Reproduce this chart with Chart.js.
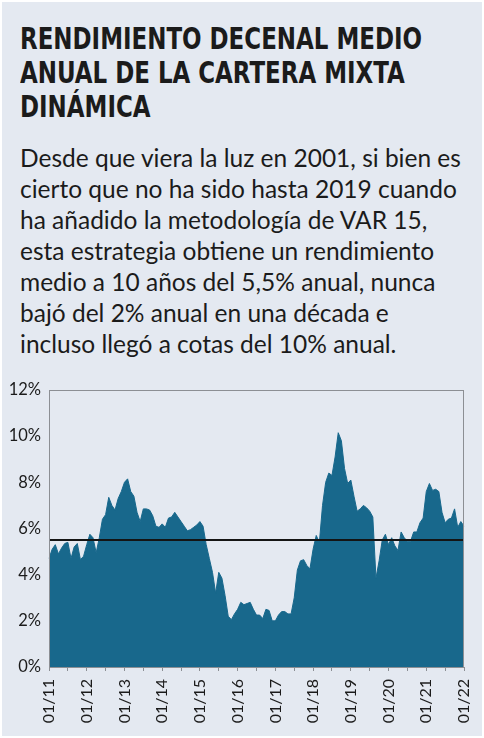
<!DOCTYPE html>
<html>
<head>
<meta charset="utf-8">
<script src="https://cdn.jsdelivr.net/npm/chart.js@4.4.1/dist/chart.umd.min.js"></script>
<style>
  html, body { margin: 0; padding: 0; }
  body { width: 484px; height: 738px; overflow: hidden; background: #fff; }
  #card {
    position: absolute; left: 2px; top: 2px; width: 480px; height: 734px;
    background: #e4e9f1; overflow: hidden;
  }
  #title {
    position: absolute; left: 18px; top: 20px;
    font-family: "DejaVu Sans Condensed", "Liberation Sans Narrow", sans-serif;
    font-weight: bold; font-size: 30px; line-height: 34px; color: #1b1b1b;
    white-space: nowrap; transform-origin: 0 0;
  }
  #title span { display: block; }
  #text {
    position: absolute; left: 18px; top: 140px; width: 470px;
    font-family: Lato, "Open Sans", sans-serif;
    font-size: 24.5px; line-height: 31px; color: #1b1b1b;
    white-space: nowrap;
  }
  #wrap { position: absolute; left: -2px; top: 373px; width: 484px; height: 363px; }
</style>
</head>
<body>
<div id="card">
  <div id="title"><span id="t1">RENDIMIENTO DECENAL MEDIO</span><span>ANUAL DE LA CARTERA MIXTA</span><span>DINÁMICA</span></div>
  <div id="text">Desde que viera la luz en 2001, si bien es<br>cierto que no ha sido hasta 2019 cuando<br>ha añadido la metodología de VAR 15,<br>esta estrategia obtiene un rendimiento<br>medio a 10 años del 5,5% anual, nunca<br>bajó del 2% anual en una década e<br>incluso llegó a cotas del 10% anual.</div>
  <div id="wrap"><canvas id="chart"></canvas></div>
</div>
<script>
// title is set in a condensed face in the original; squeeze ours to the same width
const t1 = document.getElementById('t1');
t1.style.display = 'inline-block';
const tw = t1.getBoundingClientRect().width;
t1.style.display = '';
document.getElementById('title').style.transform = 'scaleX(' + (402 / tw) + ')';

// meses 01/11 ... 01/22
const years = ['11', '12', '13', '14', '15', '16', '17', '18', '19', '20', '21', '22'];
const yearTicks = ['01/11', '01/12', '01/13', '01/14', '01/15', '01/16', '01/17', '01/18', '01/19', '01/20', '01/21', '01/22'];
const months = [];
years.forEach(y => {
  for (let m = 1; m <= 12; m++) {
    if (y === '22' && m > 1) break;
    months.push((m < 10 ? '0' + m : '' + m) + '/' + y);
  }
});

// rendimiento decenal medio anual (%)
const rend2011 = [4.7, 5.1, 5.3, 4.9, 5.15, 5.35, 5.4, 4.7, 5.2, 5.35, 4.65, 4.8];
const rend2012 = [5.3, 5.75, 5.6, 4.95, 5.6, 6.4, 6.6, 7.35, 7.0, 6.8, 7.3, 7.6];
const rend2013 = [8.0, 8.15, 7.6, 7.4, 6.7, 6.3, 6.85, 6.85, 6.8, 6.55, 6.1, 6.05];
const rend2014 = [6.2, 6.05, 6.45, 6.5, 6.7, 6.5, 6.3, 6.1, 5.9, 5.95, 6.05, 6.15];
const rend2015 = [6.3, 6.1, 5.3, 4.7, 4.1, 3.2, 4.1, 3.85, 3.1, 2.2, 2.05, 2.3];
const rend2016 = [2.5, 2.8, 2.7, 2.75, 2.8, 2.5, 2.25, 2.25, 2.1, 2.5, 2.45, 2.0];
const rend2017 = [2.0, 2.25, 2.4, 2.4, 2.3, 2.3, 3.0, 4.2, 4.6, 4.65, 4.4, 4.25];
const rend2018 = [5.1, 5.7, 5.4, 7.0, 8.0, 8.4, 8.3, 9.1, 10.15, 9.8, 8.6, 7.95];
const rend2019 = [8.1, 7.4, 6.75, 6.85, 7.0, 6.9, 6.75, 6.5, 3.85, 4.6, 5.5, 5.75];
const rend2020 = [5.3, 5.6, 5.25, 5.05, 5.85, 5.6, 5.45, 5.45, 5.85, 5.85, 6.25, 6.45];
const rend2021 = [7.6, 7.95, 7.65, 7.7, 7.6, 6.7, 6.25, 6.4, 6.45, 6.85, 6.05, 6.3];
const rend2022 = [6.1];
const rendimiento = [].concat(rend2011, rend2012, rend2013, rend2014, rend2015, rend2016,
  rend2017, rend2018, rend2019, rend2020, rend2021, rend2022);

const mediaDecenal = 5.5;
const yTicks = [0, 2, 4, 6, 8, 10, 12];

const frameAndMean = {
  id: 'frameAndMean',
  afterDatasetsDraw(chart) {
    const { ctx, chartArea: a, scales } = chart;
    const y = scales.y.getPixelForValue(mediaDecenal);
    ctx.save();
    ctx.strokeStyle = '#141414';
    ctx.lineWidth = 2;
    ctx.beginPath();
    ctx.moveTo(a.left, y);
    ctx.lineTo(a.right, y);
    ctx.stroke();
    ctx.strokeStyle = '#8c8f94';
    ctx.lineWidth = 1;
    ctx.strokeRect(a.left + 0.5, a.top + 0.5, a.right - a.left - 1, a.bottom - a.top);
    ctx.restore();
  }
};

const ctx = document.getElementById('chart').getContext('2d');
const chart = new Chart(ctx, {
  type: 'line',
  data: {
    labels: months,
    datasets: [{
      data: rendimiento,
      backgroundColor: '#18688c',
      borderColor: '#18688c',
      borderWidth: 1,
      pointRadius: 0,
      fill: 'origin',
      tension: 0
    }]
  },
  options: {
    responsive: true,
    maintainAspectRatio: false,
    animation: false,
    layout: { padding: { top: 15, right: 20, left: 0, bottom: 0 } },
    plugins: { legend: { display: false }, tooltip: { enabled: false } },
    scales: {
      x: {
        type: 'category',
        offset: false,
        grid: { drawOnChartArea: false, tickLength: 4, color: '#8c8f94' },
        border: { color: '#8c8f94' },
        afterFit(scale) {
          scale.height = 71;
          scale.paddingLeft = 0;
          scale.paddingRight = 0;
        },
        ticks: {
          autoSkip: false,
          maxRotation: 90,
          minRotation: 90,
          padding: 8,
          color: '#1b1b1b',
          font: { family: 'Lato, "Open Sans", sans-serif', size: 16 },
          callback(v, i) {
            if (i % 12 === 0) return yearTicks[i / 12];
            if (i % 6 === 0) return '';
            return null;
          }
        }
      },
      y: {
        min: 0,
        max: 12,
        afterFit(scale) {
          scale.width = 49;
          scale.paddingTop = 0;
          scale.paddingBottom = 0;
        },
        afterBuildTicks(scale) { scale.ticks = yTicks.map(v => ({ value: v })); },
        grid: { display: false },
        border: { color: '#8c8f94' },
        ticks: {
          padding: 0,
          color: '#1b1b1b',
          font: { family: 'Lato, "Open Sans", sans-serif', size: 16.5 },
          callback: v => v + '%'
        }
      }
    }
  },
  plugins: [frameAndMean]
});
</script>
</body>
</html>
